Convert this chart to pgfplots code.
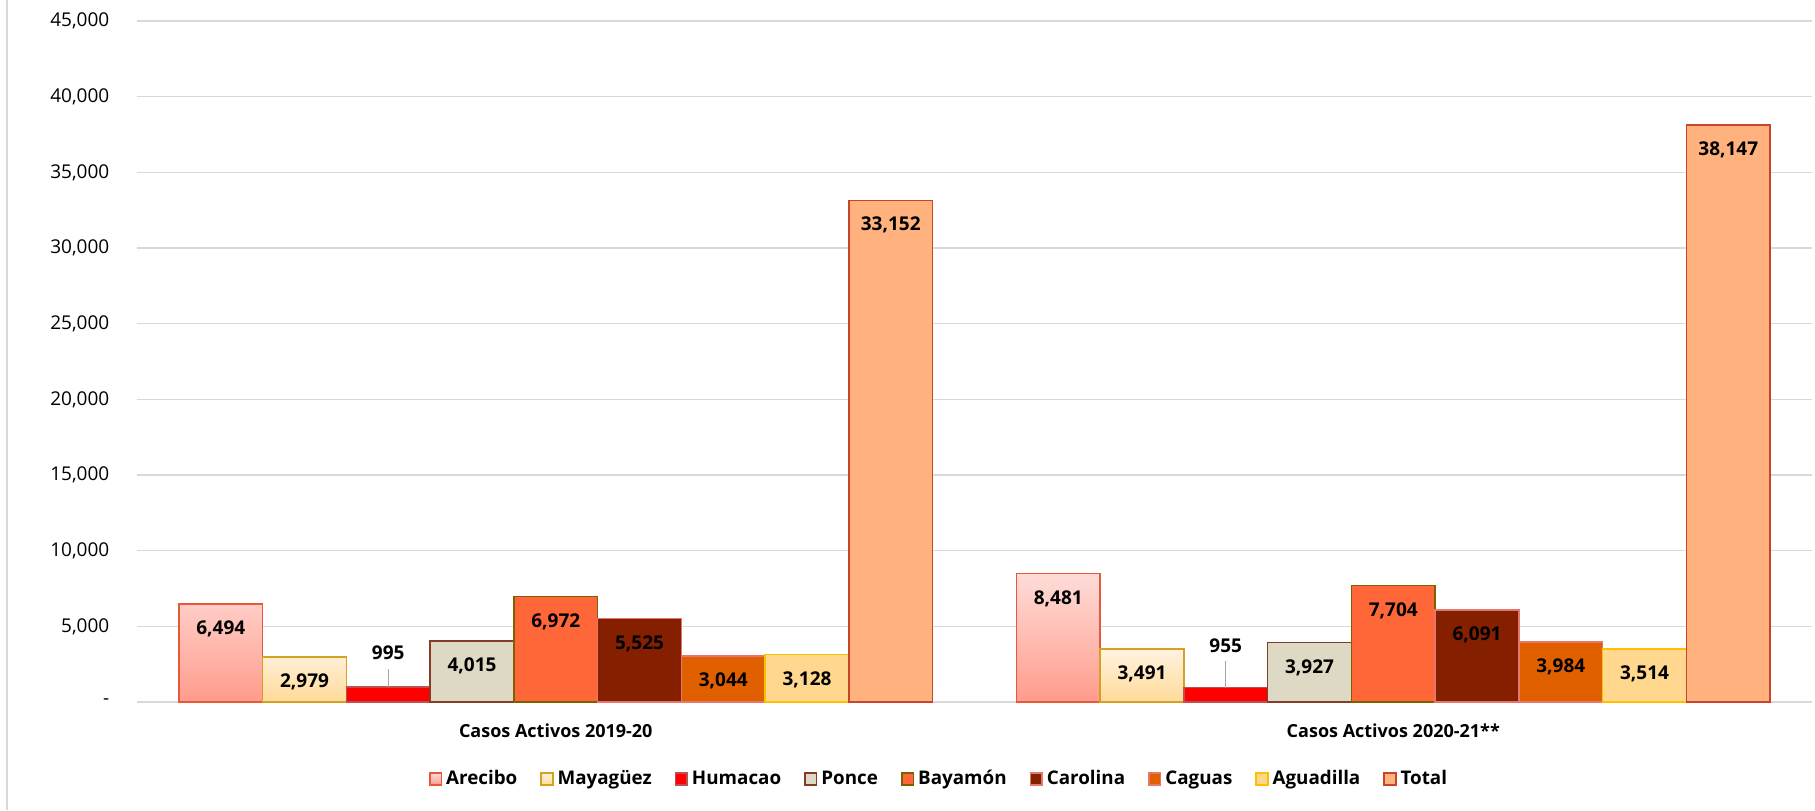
\documentclass[border=0pt]{standalone}
\usepackage{pgfplots}
\pgfplotsset{compat=1.18}
\usepackage{fontspec}
\setmainfont{Open Sans}
\definecolor{gridgray}{HTML}{D9D9D9}
\definecolor{arecT}{HTML}{FFDCD8}
\definecolor{arecBt}{HTML}{FF9C8C}
\definecolor{arecD}{HTML}{E8583A}
\definecolor{mayaT}{HTML}{FFF3E0}
\definecolor{mayaBt}{HTML}{FFDA98}
\definecolor{mayaD}{HTML}{D4A21E}
\definecolor{humaF}{HTML}{FF0000}
\definecolor{humaD}{HTML}{C0504D}
\definecolor{ponceF}{HTML}{DDD9C4}
\definecolor{ponceD}{HTML}{843C29}
\definecolor{bayaF}{HTML}{FF6638}
\definecolor{bayaD}{HTML}{7F6000}
\definecolor{caroF}{HTML}{841F00}
\definecolor{caroD}{HTML}{E5786A}
\definecolor{cagF}{HTML}{E06000}
\definecolor{cagD}{HTML}{E5786A}
\definecolor{aguaF}{HTML}{FFD78E}
\definecolor{aguaD}{HTML}{FFC000}
\definecolor{totF}{HTML}{FFB27E}
\definecolor{totD}{HTML}{C8452A}
\begin{document}
\begin{tikzpicture}
\useasboundingbox (0,0) rectangle (907.5pt,405pt);
\draw[color=gridgray, line width=0.75pt] (3.5pt,0) -- (3.5pt,405pt);
\begin{axis}[
  at={(68.5pt,54pt)}, anchor=south west,
  scale only axis, width=837.5pt, height=340.5pt,
  xmin=-0.5, xmax=1.5, ymin=0, ymax=45000,
  ybar, bar width=0.1,
  axis line style={draw=none},
  major tick length=0pt,
  scaled y ticks=false,
  ymajorgrids, grid style={draw=gridgray, line width=0.75pt},
  ytick={0,5000,10000,15000,20000,25000,30000,35000,40000,45000},
  yticklabels={{-\hspace{6pt}},{5,000},{10,000},{15,000},{20,000},{25,000},{30,000},{35,000},{40,000},{45,000}},
  yticklabel style={anchor=east, xshift=-10.3pt, font=\fontsize{9.5}{11}\selectfont},
  xtick={0,1},
  xticklabels={{Casos Activos 2019-20},{Casos Activos 2020-21**}},
  xticklabel style={anchor=center, yshift=-14.5pt, font=\bfseries\fontsize{9}{10}\selectfont},
  /pgf/number format/.cd, 1000 sep={,}, assume math mode=true, /pgfplots/.cd,
  nodes near coords,
  every node near coord/.append style={anchor=center, yshift=-12.5pt, font=\bfseries\fontsize{9.5}{11}\selectfont, text=black},
  legend style={at={(0.4794,-0.1131)}, anchor=center, legend columns=9, draw=none,
    font=\bfseries\fontsize{9.4}{10}\selectfont,
    /tikz/every even column/.append style={column sep=9.5pt}},
  legend image code/.code={\draw[#1] (0pt,-2.9pt) rectangle (5.8pt,2.9pt);},
]
\addplot[draw=arecD, line width=0.8pt, top color=arecT, bottom color=arecBt, bar shift=-0.4]
  coordinates {(0,6494) (1,8481)};
\addlegendentry{Arecibo}
\addplot[draw=mayaD, line width=0.8pt, top color=mayaT, bottom color=mayaBt, bar shift=-0.3]
  coordinates {(0,2979) (1,3491)};
\addlegendentry{Mayagüez}
\addplot[draw=humaD, line width=0.8pt, fill=humaF, bar shift=-0.2,
  visualization depends on={\thisrow{lab} \as \lab},
  every node near coord/.append style={yshift=\lab pt},
  error bars/.cd, y dir=plus, y explicit, error mark=none,
  error bar style={color=gray!70, line width=0.6pt}]
  table[x=x, y=y, y error=err] {
x y err lab
0 995 1190 29.5
1 955 1784 33.5
};
\addlegendentry{Humacao}
\addplot[draw=ponceD, line width=0.8pt, fill=ponceF, bar shift=-0.1]
  coordinates {(0,4015) (1,3927)};
\addlegendentry{Ponce}
\addplot[draw=bayaD, line width=0.8pt, fill=bayaF, bar shift=0]
  coordinates {(0,6972) (1,7704)};
\addlegendentry{Bayamón}
\addplot[draw=caroD, line width=0.8pt, fill=caroF, bar shift=0.1]
  coordinates {(0,5525) (1,6091)};
\addlegendentry{Carolina}
\addplot[draw=cagD, line width=0.8pt, fill=cagF, bar shift=0.2]
  coordinates {(0,3044) (1,3984)};
\addlegendentry{Caguas}
\addplot[draw=aguaD, line width=0.8pt, fill=aguaF, bar shift=0.3]
  coordinates {(0,3128) (1,3514)};
\addlegendentry{Aguadilla}
\addplot[draw=totD, line width=0.8pt, fill=totF, bar shift=0.4]
  coordinates {(0,33152) (1,38147)};
\addlegendentry{Total}
\end{axis}
\end{tikzpicture}
\end{document}
